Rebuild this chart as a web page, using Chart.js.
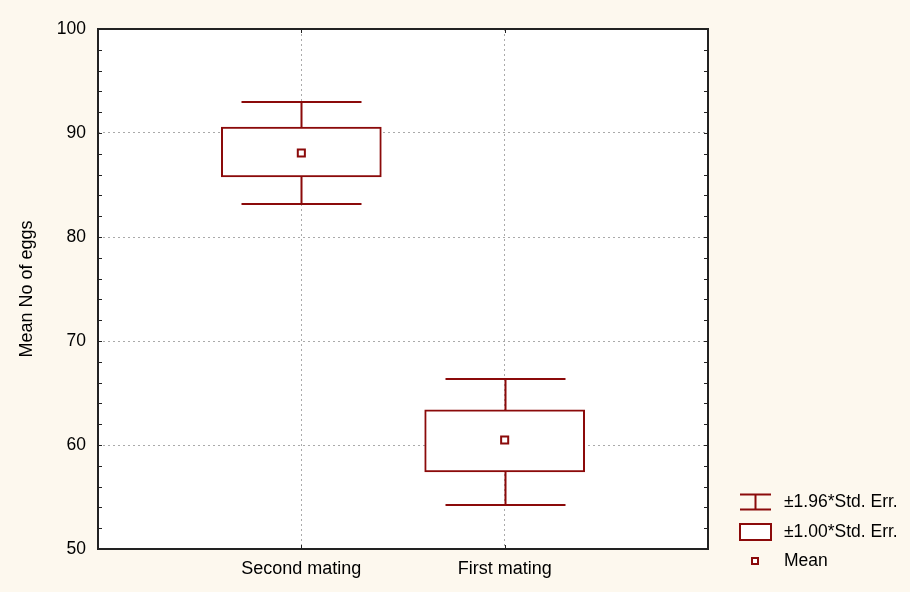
<!DOCTYPE html>
<html>
<head>
<meta charset="utf-8">
<script src="https://cdn.jsdelivr.net/npm/chart.js@4/dist/chart.umd.min.js"></script>
<style>
  html, body { margin: 0; padding: 0; background: #fdf8ee; }
  #wrap { width: 910px; height: 592px; }
</style>
</head>
<body>
<div id="wrap"><canvas id="eggsChart" width="910" height="592"></canvas></div>
<script>
const categories = ['', 'Second mating', 'First mating', ''];
const means = [null, 88.08, 60.48, null];
const boxLow = [null, 85.77, 57.40, null];     // mean - 1.00*SE
const boxHigh = [null, 90.58, 63.37, null];    // mean + 1.00*SE
const whiskerLow = [null, 83.17, 54.23, null]; // mean - 1.96*SE
const whiskerHigh = [null, 92.98, 66.35, null];// mean + 1.96*SE
const legendLabels = ['\u00b11.96*Std. Err.', '\u00b11.00*Std. Err.', 'Mean'];

const RED = '#8b0a0a';
const FONT = "'Liberation Sans', Arial, sans-serif";

const ctx = document.getElementById('eggsChart').getContext('2d');

// cream page, white plot area, frame, inner ticks, whiskers, legend
const statsPlugin = {
    id: 'statsPlugin',
    beforeDraw(chart) {
        const c = chart.ctx;
        const a = chart.chartArea;
        c.save();
        c.fillStyle = '#fdf8ee';
        c.fillRect(0, 0, chart.width, chart.height);
        c.fillStyle = '#ffffff';
        c.fillRect(a.left, a.top, a.right - a.left, a.bottom - a.top);
        c.restore();
    },
    afterDatasetsDraw(chart) {
        const c = chart.ctx;
        const x = chart.scales.x;
        const y = chart.scales.y;
        c.save();
        c.strokeStyle = RED;
        c.lineWidth = 2;
        for (let i = 0; i < categories.length; i++) {
            if (means[i] == null) continue;
            const px = Math.round(x.getPixelForValue(i)) + 0.5;
            const capHalf = 60;
            const yHi = Math.round(y.getPixelForValue(whiskerHigh[i]));
            const yLo = Math.round(y.getPixelForValue(whiskerLow[i]));
            const bHi = y.getPixelForValue(boxHigh[i]);
            const bLo = y.getPixelForValue(boxLow[i]);
            c.beginPath();
            c.moveTo(px, yHi); c.lineTo(px, bHi);
            c.moveTo(px, yLo); c.lineTo(px, bLo);
            c.moveTo(px - capHalf, yHi); c.lineTo(px + capHalf, yHi);
            c.moveTo(px - capHalf, yLo); c.lineTo(px + capHalf, yLo);
            c.stroke();
        }
        c.restore();
    },
    afterDraw(chart) {
        const c = chart.ctx;
        const a = chart.chartArea;
        const x = chart.scales.x;
        const y = chart.scales.y;
        c.save();
        // inner ticks
        c.strokeStyle = '#222';
        c.lineWidth = 1;
        c.beginPath();
        y.ticks.forEach(t => {
            const py = Math.round(y.getPixelForValue(t.value)) + 0.5;
            c.moveTo(a.left, py); c.lineTo(a.left + 4, py);
            c.moveTo(a.right, py); c.lineTo(a.right - 4, py);
        });
        for (let i = 1; i < categories.length - 1; i++) {
            const px = Math.round(x.getPixelForValue(i)) + 0.5;
            c.moveTo(px, a.top); c.lineTo(px, a.top + 4);
            c.moveTo(px, a.bottom); c.lineTo(px, a.bottom - 4);
        }
        c.stroke();
        // frame
        c.lineWidth = 2;
        c.strokeStyle = '#222';
        c.strokeRect(a.left, a.top, a.right - a.left, a.bottom - a.top);

        // legend
        const lx = 740, tx = 784;
        c.strokeStyle = RED;
        c.lineWidth = 2;
        c.beginPath();
        c.moveTo(lx, 494.5); c.lineTo(lx + 31, 494.5);
        c.moveTo(lx, 509.5); c.lineTo(lx + 31, 509.5);
        c.moveTo(lx + 15.5, 494.5); c.lineTo(lx + 15.5, 509.5);
        c.stroke();
        c.fillStyle = '#fff';
        c.fillRect(lx, 524, 31, 16);
        c.strokeRect(lx, 524, 31, 16);
        c.fillRect(752, 558, 6, 6);
        c.strokeRect(752, 558, 6, 6);
        c.fillStyle = '#000';
        c.font = '17.5px ' + FONT;
        c.textBaseline = 'middle';
        c.textAlign = 'left';
        c.fillText(legendLabels[0], tx, 502);
        c.fillText(legendLabels[1], tx, 532);
        c.fillText(legendLabels[2], tx, 561);
        c.restore();
    }
};

const dottedGrid = (visible) => ({
    color: (g) => visible(g) ? '#aaaaaa' : 'rgba(0,0,0,0)',
    lineWidth: 1,
    drawTicks: false,
    offset: false
});

const eggsChart = new Chart(ctx, {
    data: {
        labels: categories,
        datasets: [
            {
                type: 'bar',
                label: legendLabels[1],
                data: categories.map((c, i) => boxLow[i] == null ? null : [boxLow[i], boxHigh[i]]),
                backgroundColor: '#ffffff',
                borderColor: RED,
                borderWidth: 2,
                borderSkipped: false,
                barThickness: 160,
                order: 2
            },
            {
                type: 'line',
                label: legendLabels[2],
                data: means,
                showLine: false,
                pointStyle: 'rect',
                pointRadius: 5,
                borderWidth: 2,
                borderColor: RED,
                backgroundColor: '#ffffff',
                order: 1
            }
        ]
    },
    options: {
        responsive: false,
        animation: false,
        events: [],
        layout: { padding: { left: 0, top: 29, right: 202, bottom: 0 } },
        plugins: {
            legend: { display: false },
            tooltip: { enabled: false }
        },
        scales: {
            x: {
                type: 'category',
                offset: false,
                afterFit: (s) => { s.height = 43; },
                grid: dottedGrid(g => g.index === 1 || g.index === 2),
                border: { display: false, dash: [2, 3] },
                ticks: {
                    autoSkip: false,
                    maxRotation: 0,
                    padding: 9,
                    color: '#000',
                    font: { family: FONT, size: 18 }
                }
            },
            y: {
                type: 'linear',
                min: 50,
                max: 100,
                afterFit: (s) => { s.width = 98; },
                grid: dottedGrid(g => g.tick && g.tick.value % 10 === 0 && g.tick.value > 50 && g.tick.value < 100),
                border: { display: false, dash: [2, 3] },
                title: {
                    display: true,
                    text: 'Mean No of eggs',
                    color: '#000',
                    font: { family: FONT, size: 18 },
                    padding: { top: 16, bottom: 0 }
                },
                ticks: {
                    stepSize: 2,
                    autoSkip: false,
                    padding: 12,
                    color: '#000',
                    font: { family: FONT, size: 17.5 },
                    callback: (v) => v % 10 === 0 ? v : ''
                }
            }
        }
    },
    plugins: [statsPlugin]
});
</script>
</body>
</html>
